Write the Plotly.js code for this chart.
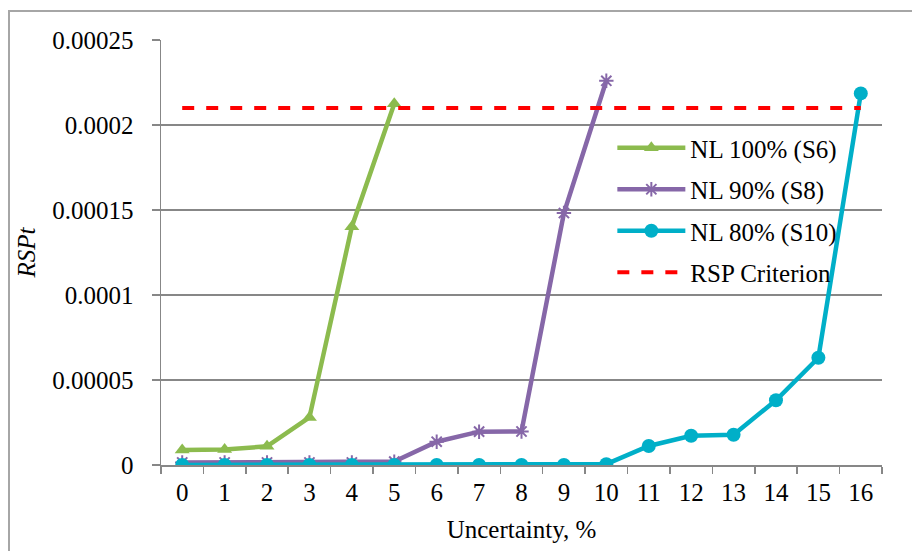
<!DOCTYPE html>
<html>
<head>
<meta charset="utf-8">
<script src="https://cdn.plot.ly/plotly-3.0.1.min.js"></script>
<style>
  html, body { margin: 0; padding: 0; background: #fff; }
  #wrap { position: relative; width: 912px; height: 551px; overflow: hidden; }
  #chart { width: 912px; height: 551px; }
  #frame { position: absolute; left: 8px; top: 10px; width: 960px; height: 600px;
           border: 2px solid #a6a6a6; pointer-events: none; box-sizing: border-box; }
</style>
</head>
<body>
<div id="wrap">
  <div id="chart"></div>
  <div id="frame"></div>
</div>
<script>
// Data
const categories = ["0","1","2","3","4","5","6","7","8","9","10","11","12","13","14","15","16"];

const s6Cats   = ["0","1","2","3","4","5"];
const s6Values = [0.0000088, 0.0000091, 0.0000110, 0.0000280, 0.0001402, 0.0002125];

const s8Cats   = ["0","1","2","3","4","5","6","7","8","9","10"];
const s8Values = [0.0000015, 0.0000015, 0.0000015, 0.0000015, 0.0000015, 0.0000020,
                  0.0000137, 0.0000196, 0.0000197, 0.0001482, 0.0002260];

const s10Values = [0, 0, 0, 0, 0, 0, 0, 0, 0, 0, 0.0000005,
                   0.0000112, 0.0000172, 0.0000178, 0.0000381, 0.0000631, 0.0002186];

const criterionCats  = ["0", "16"];
const criterionValue = [0.00021, 0.00021];

const yTickVals  = [0, 0.00005, 0.0001, 0.00015, 0.0002, 0.00025];
const yTickText  = ["0", "0.00005", "0.0001", "0.00015", "0.0002", "0.00025"];

const seriesNames = ["NL 100% (S6)", "NL 90% (S8)", "NL 80% (S10)", "RSP Criterion"];

const FONT = "Liberation Serif";
const FS = 25;

const traces = [
  {
    x: s6Cats, y: s6Values, name: seriesNames[0], legendgroup: "g1",
    type: "scatter", mode: "lines+markers",
    line: { color: "#8CBB4E", width: 4.5 },
    marker: { symbol: "triangle-up", size: 13, color: "#8CBB4E" }
  },
  {
    x: s8Cats, y: s8Values, name: seriesNames[1], legendgroup: "g2",
    type: "scatter", mode: "lines+markers",
    line: { color: "#8667A8", width: 4.5 },
    marker: { symbol: "asterisk-open", size: 12, color: "#8667A8", line: { color: "#8667A8", width: 2 } }
  },
  {
    x: categories, y: s10Values, name: seriesNames[2], legendgroup: "g3",
    type: "scatter", mode: "lines+markers",
    line: { color: "#00AFC8", width: 4.5 },
    marker: { symbol: "circle", size: 14, color: "#00AFC8" }
  },
  {
    x: criterionCats, y: criterionValue, name: seriesNames[3], legendgroup: "g4",
    type: "scatter", mode: "lines",
    line: { color: "#FF0000", width: 4, dash: "dash" }
  }
];

const layout = {
  width: 912, height: 551,
  margin: { l: 161, r: 30, t: 40, b: 86 },
  paper_bgcolor: "#ffffff", plot_bgcolor: "#ffffff",
  font: { family: FONT, size: FS, color: "#000000" },
  showlegend: true,
  legend: {
    x: 0.626, y: 0.80, xanchor: "left", yanchor: "top",
    bgcolor: "rgba(0,0,0,0)", borderwidth: 0,
    font: { family: FONT, size: FS, color: "#000" },
    itemwidth: 68, tracegroupgap: 6, traceorder: "grouped"
  },
  xaxis: {
    type: "category", categoryorder: "array", categoryarray: categories,
    range: [-0.5, 16.5],
    showgrid: false, zeroline: false,
    showline: true, linecolor: "#878787", linewidth: 1.5,
    ticks: "outside", tickson: "boundaries", ticklen: 7, tickwidth: 1.5, tickcolor: "#878787",
    tickfont: { family: FONT, size: FS, color: "#000" },
    ticklabelstandoff: 4,
    title: { text: "Uncertainty, %", font: { family: FONT, size: FS, color: "#000" }, standoff: 16 },
    fixedrange: true
  },
  yaxis: {
    range: [0, 0.00025],
    tickvals: yTickVals, ticktext: yTickText,
    showgrid: true, gridcolor: "#878787", gridwidth: 1.5,
    zeroline: false,
    showline: true, linecolor: "#878787", linewidth: 1.5,
    ticks: "outside", ticklen: 8, tickwidth: 1.5, tickcolor: "#878787",
    tickfont: { family: FONT, size: FS, color: "#000" },
    ticklabelstandoff: 13,
    title: { text: "<i>RSPt</i>", font: { family: FONT, size: FS, color: "#000" }, standoff: 9 },
    fixedrange: true
  }
};

Plotly.newPlot("chart", traces, layout, { displayModeBar: false, staticPlot: true });
</script>
</body>
</html>
